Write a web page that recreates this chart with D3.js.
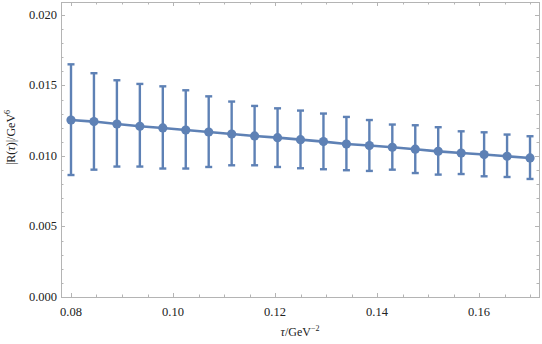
<!DOCTYPE html>
<html>
<head>
<meta charset="utf-8">
<script src="https://cdn.jsdelivr.net/npm/d3@7"></script>
<style>
  body { margin: 0; background: #fff; }
</style>
</head>
<body>
<svg id="chart" width="542" height="344"></svg>
<script>
// tau values (GeV^-2), step 0.0045
const tau = [0.08, 0.0845, 0.089, 0.0935, 0.098, 0.1025, 0.107, 0.1115, 0.116, 0.1205,
  0.125, 0.1295, 0.134, 0.1385, 0.143, 0.1475, 0.152, 0.1565, 0.161, 0.1655, 0.17];
// central values |R(tau)| (GeV^6)
const central = [0.01255, 0.01244, 0.01227, 0.01211, 0.01199, 0.01184, 0.0117, 0.01156, 0.01142, 0.0113,
  0.01116, 0.01102, 0.01085, 0.01074, 0.01062, 0.01048, 0.01033, 0.01021, 0.0101, 0.00998, 0.00986];
const upper = [0.0165, 0.01587, 0.01537, 0.01511, 0.01494, 0.01466, 0.01423, 0.01386, 0.01355, 0.01338,
  0.01322, 0.01301, 0.01277, 0.01255, 0.01223, 0.01218, 0.01204, 0.01175, 0.01168, 0.01152, 0.0114];
const lower = [0.00865, 0.00903, 0.00925, 0.00925, 0.00911, 0.00911, 0.00922, 0.00934, 0.00934, 0.00922,
  0.00913, 0.00906, 0.00899, 0.00894, 0.00903, 0.00879, 0.00868, 0.00872, 0.00856, 0.00851, 0.00837];

const xTicks = [0.08, 0.10, 0.12, 0.14, 0.16];
const yTicks = [0.000, 0.005, 0.010, 0.015, 0.020];

const data = tau.map((t, i) => ({ t, v: central[i], hi: upper[i], lo: lower[i] }));

const svg = d3.select("#chart");
const frame = { left: 61, right: 539, top: 2, bottom: 297 };
const blue = "#5E81B5";
const gray = "#b4b4b4";
const serif = '"Liberation Serif"';

const x = d3.scaleLinear().domain([0.07804, 0.17176]).range([frame.left, frame.right]);
const y = d3.scaleLinear().domain([0, 0.02092]).range([frame.bottom, frame.top]);

const minorX = d3.range(0.08, 0.1701, 0.005).map(v => +v.toFixed(4));
const minorY = d3.range(0, 0.0209, 0.001).map(v => +v.toFixed(4));

// frame
svg.append("rect")
  .attr("x", frame.left + 0.5).attr("y", frame.top + 0.5)
  .attr("width", frame.right - frame.left).attr("height", frame.bottom - frame.top)
  .attr("fill", "none").attr("stroke", gray).attr("stroke-width", 1);

// ticks pointing inward on all four sides
const isMajor = (v, list) => list.some(m => Math.abs(m - v) < 1e-9);
const tk = svg.append("g").attr("stroke", gray).attr("stroke-width", 1);
minorX.forEach(v => {
  const len = isMajor(v, xTicks) ? 4 : 2.5;
  const px = Math.round(x(v)) + 0.5;
  tk.append("line").attr("x1", px).attr("x2", px).attr("y1", frame.bottom).attr("y2", frame.bottom - len);
  tk.append("line").attr("x1", px).attr("x2", px).attr("y1", frame.top).attr("y2", frame.top + len);
});
minorY.forEach(v => {
  const len = isMajor(v, yTicks) ? 4 : 2.5;
  const py = Math.round(y(v)) + 0.5;
  tk.append("line").attr("y1", py).attr("y2", py).attr("x1", frame.left).attr("x2", frame.left + len);
  tk.append("line").attr("y1", py).attr("y2", py).attr("x1", frame.right).attr("x2", frame.right - len);
});

// tick labels
svg.append("g").selectAll("text").data(xTicks).join("text")
  .attr("x", d => x(d)).attr("y", frame.bottom + 19)
  .style("font-family", serif)
  .attr("text-anchor", "middle").attr("font-size", 12.5).attr("fill", "#222")
  .text(d3.format(".2f"));
svg.append("g").selectAll("text").data(yTicks).join("text")
  .attr("x", frame.left - 4).attr("y", d => y(d) + 4)
  .style("font-family", serif)
  .attr("text-anchor", "end").attr("font-size", 12.5).attr("fill", "#222")
  .text(d3.format(".3f"));

// axis labels
const xl = svg.append("text")
  .attr("x", (frame.left + frame.right) / 2).attr("y", 336)
  .style("font-family", serif)
  .attr("text-anchor", "middle").attr("font-size", 12).attr("fill", "#222");
xl.append("tspan").attr("font-style", "italic").text("τ");
xl.append("tspan").text("/GeV");
xl.append("tspan").attr("font-size", 8).attr("dy", -5).text("−2");

const yl = svg.append("text")
  .attr("transform", `translate(15,${(frame.top + frame.bottom) / 2 - 12}) rotate(-90)`)
  .style("font-family", serif)
  .attr("text-anchor", "middle").attr("font-size", 12).attr("fill", "#222");
yl.append("tspan").text("|R(");
yl.append("tspan").attr("font-style", "italic").text("τ");
yl.append("tspan").text(")|/GeV");
yl.append("tspan").attr("font-size", 8).attr("dy", -5).text("6");

// plot contents
const plot = svg.append("g");

// error bars
const eb = plot.append("g").attr("stroke", blue).attr("stroke-width", 2.4);
data.forEach(d => {
  eb.append("line").attr("x1", x(d.t)).attr("x2", x(d.t)).attr("y1", y(d.lo)).attr("y2", y(d.hi));
  eb.append("line").attr("x1", x(d.t) - 3.5).attr("x2", x(d.t) + 3.5).attr("y1", y(d.hi)).attr("y2", y(d.hi));
  eb.append("line").attr("x1", x(d.t) - 3.5).attr("x2", x(d.t) + 3.5).attr("y1", y(d.lo)).attr("y2", y(d.lo));
});

// joining line
plot.append("path").datum(data)
  .attr("fill", "none").attr("stroke", blue).attr("stroke-width", 2.6)
  .attr("d", d3.line().x(d => x(d.t)).y(d => y(d.v)));

// points
plot.append("g").selectAll("circle").data(data).join("circle")
  .attr("cx", d => x(d.t)).attr("cy", d => y(d.v)).attr("r", 4.6)
  .attr("fill", blue);
</script>
</body>
</html>
